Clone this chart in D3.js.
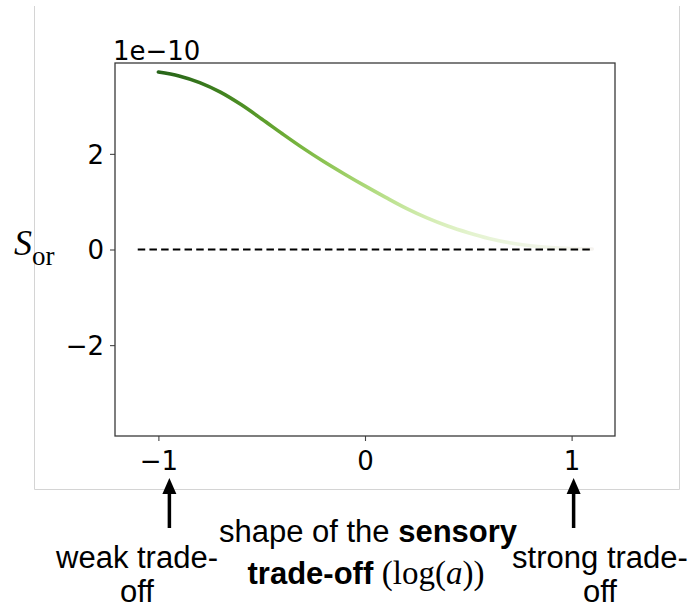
<!DOCTYPE html>
<html>
<head>
<meta charset="utf-8">
<script src="https://cdn.jsdelivr.net/npm/d3@7"></script>
<style>
  html, body { margin: 0; padding: 0; background: #fff; }
  svg { display: block; }
</style>
</head>
<body>
<svg id="chart" width="696" height="611"></svg>
<script>
// ---- data (S_or in units of 1e-10) ----
const logA = [-1.0, -0.9, -0.8, -0.7, -0.6, -0.5, -0.4, -0.3, -0.2, -0.1, 0.0,
              0.1, 0.2, 0.3, 0.4, 0.5, 0.6, 0.7, 0.8, 0.9, 1.0, 1.1];
const sOr = [3.71, 3.63, 3.49, 3.29, 3.03, 2.73, 2.42, 2.12, 1.84, 1.58, 1.33,
             1.09, 0.86, 0.66, 0.49, 0.35, 0.23, 0.14, 0.08, 0.04, 0.02, 0.01].map(v => v * 1e-10);
const refX = [-1.1, 1.1];
const refY = [0, 0];
const xTicks = [-1, 0, 1];
const yTicks = [-2e-10, 0, 2e-10];
const offsetText = "1e\u221210";

const svg = d3.select("#chart");
const M = { left: 115, right: 615, top: 63, bottom: 436 };

const x = d3.scaleLinear().domain([-1.21, 1.21]).range([M.left, M.right]);
const y = d3.scaleLinear().domain([-3.9e-10, 3.9e-10]).range([M.bottom, M.top]);

// outer light frame
svg.append("path")
  .attr("d", "M34.5,6 V489.5 H679.5 V6")
  .attr("fill", "none").attr("stroke", "#d4d4d4").attr("stroke-width", 1);

// gradient along the curve
const ymax = d3.max(sOr);
const grad = svg.append("defs").append("linearGradient")
  .attr("id", "g").attr("gradientUnits", "userSpaceOnUse")
  .attr("x1", x(logA[0])).attr("x2", x(logA[logA.length - 1]))
  .attr("y1", 0).attr("y2", 0);
const span = logA[logA.length - 1] - logA[0];
logA.forEach((a, i) => {
  const fx = 1 - (a - logA[0]) / span;
  const fy = sOr[i] / ymax;
  grad.append("stop")
    .attr("offset", (a - logA[0]) / span)
    .attr("stop-color", d3.interpolatePiYG(0.5 + 0.5 * (fx + fy) / 2));
});

const data = logA.map((a, i) => ({ a, s: sOr[i] }));
const line = d3.line().x(d => x(d.a)).y(d => y(d.s)).curve(d3.curveCatmullRom);

svg.append("path").datum(data)
  .attr("d", line)
  .attr("fill", "none")
  .attr("stroke", "url(#g)")
  .attr("stroke-width", 3.6)
  .attr("stroke-linecap", "round");

// dashed zero reference
svg.append("path").datum(refX.map((a, i) => ({ a, s: refY[i] })))
  .attr("d", d3.line().x(d => x(d.a)).y(d => y(d.s)))
  .attr("fill", "none").attr("stroke", "#000")
  .attr("stroke-width", 2.2).attr("stroke-dasharray", "7.5,4.2");

// axes
const fmtY = d => {
  const v = Math.round(d / 1e-10);
  return v < 0 ? "\u2212" + (-v) : String(v);
};
const fmtX = d => d < 0 ? "\u2212" + (-d) : String(d);

const xAxis = svg.append("g").attr("transform", `translate(0,${M.bottom})`)
  .call(d3.axisBottom(x).tickValues(xTicks).tickSize(5).tickPadding(6).tickFormat(fmtX));
const yAxis = svg.append("g").attr("transform", `translate(${M.left},0)`)
  .call(d3.axisLeft(y).tickValues(yTicks).tickSize(5).tickPadding(6).tickFormat(fmtY));

[xAxis, yAxis].forEach(g => {
  g.select(".domain").remove();
  g.selectAll(".tick line").attr("stroke", "#444").attr("stroke-width", 1.1);
  g.selectAll(".tick text")
    .attr("fill", "#000")
    .style("font-family", "'DejaVu Sans', sans-serif")
    .style("font-size", "26px");
});
xAxis.selectAll(".tick text").attr("dy", "0.9em");
yAxis.selectAll(".tick text").attr("dy", "0.36em");

// spines
svg.append("rect")
  .attr("x", M.left).attr("y", M.top)
  .attr("width", M.right - M.left).attr("height", M.bottom - M.top)
  .attr("fill", "none").attr("stroke", "#3a3a3a").attr("stroke-width", 1.3);

// offset text
svg.append("text")
  .attr("x", M.left - 2).attr("y", 60)
  .style("font-family", "'DejaVu Sans', sans-serif")
  .style("font-size", "26px")
  .text(offsetText);

// y label S_or
const yl = svg.append("text")
  .attr("x", 14).attr("y", 255)
  .style("font-family", "'Liberation Serif', 'Times New Roman', serif");
yl.append("tspan").style("font-style", "italic").style("font-size", "36px").text("S");
yl.append("tspan").attr("dy", 10).style("font-size", "27px").text("or");

// x label (two lines)
const sans = "'Liberation Sans', Arial, Helvetica, sans-serif";
const l1 = svg.append("text").attr("x", 368).attr("y", 542)
  .attr("text-anchor", "middle")
  .style("font-family", sans).style("font-size", "31px");
l1.append("tspan").text("shape of the ");
l1.append("tspan").style("font-weight", "bold").text("sensory");

const l2 = svg.append("text").attr("x", 366).attr("y", 584)
  .attr("text-anchor", "middle")
  .style("font-family", sans).style("font-size", "31px");
l2.append("tspan").style("font-weight", "bold").text("trade-off ");
l2.append("tspan").style("font-family", "'Liberation Serif', serif").style("font-size", "33px").text("(log(");
l2.append("tspan").style("font-family", "'Liberation Serif', serif").style("font-size", "33px").style("font-style", "italic").text("a");
l2.append("tspan").style("font-family", "'Liberation Serif', serif").style("font-size", "33px").text("))");

// side annotations
const notes = [
  { cx: 137, ax: xTicks[0], lines: ["weak trade-", "off"] },
  { cx: 600, ax: xTicks[2], lines: ["strong trade-", "off"] }
];
const arrowX = a => x(a) + (a < 0 ? 11 : 2);
notes.forEach(n => {
  const t = svg.append("text").attr("text-anchor", "middle")
    .style("font-family", sans).style("font-size", "31px");
  n.lines.forEach((s, i) => {
    t.append("tspan").attr("x", n.cx).attr("y", 568 + i * 34).text(s);
  });
  const ax = arrowX(n.ax);
  svg.append("line")
    .attr("x1", ax).attr("x2", ax).attr("y1", 528).attr("y2", 490)
    .attr("stroke", "#000").attr("stroke-width", 3.5);
  svg.append("path")
    .attr("d", `M${ax},478 L${ax - 7},494 L${ax + 7},494 Z`)
    .attr("fill", "#000");
});
</script>
</body>
</html>
